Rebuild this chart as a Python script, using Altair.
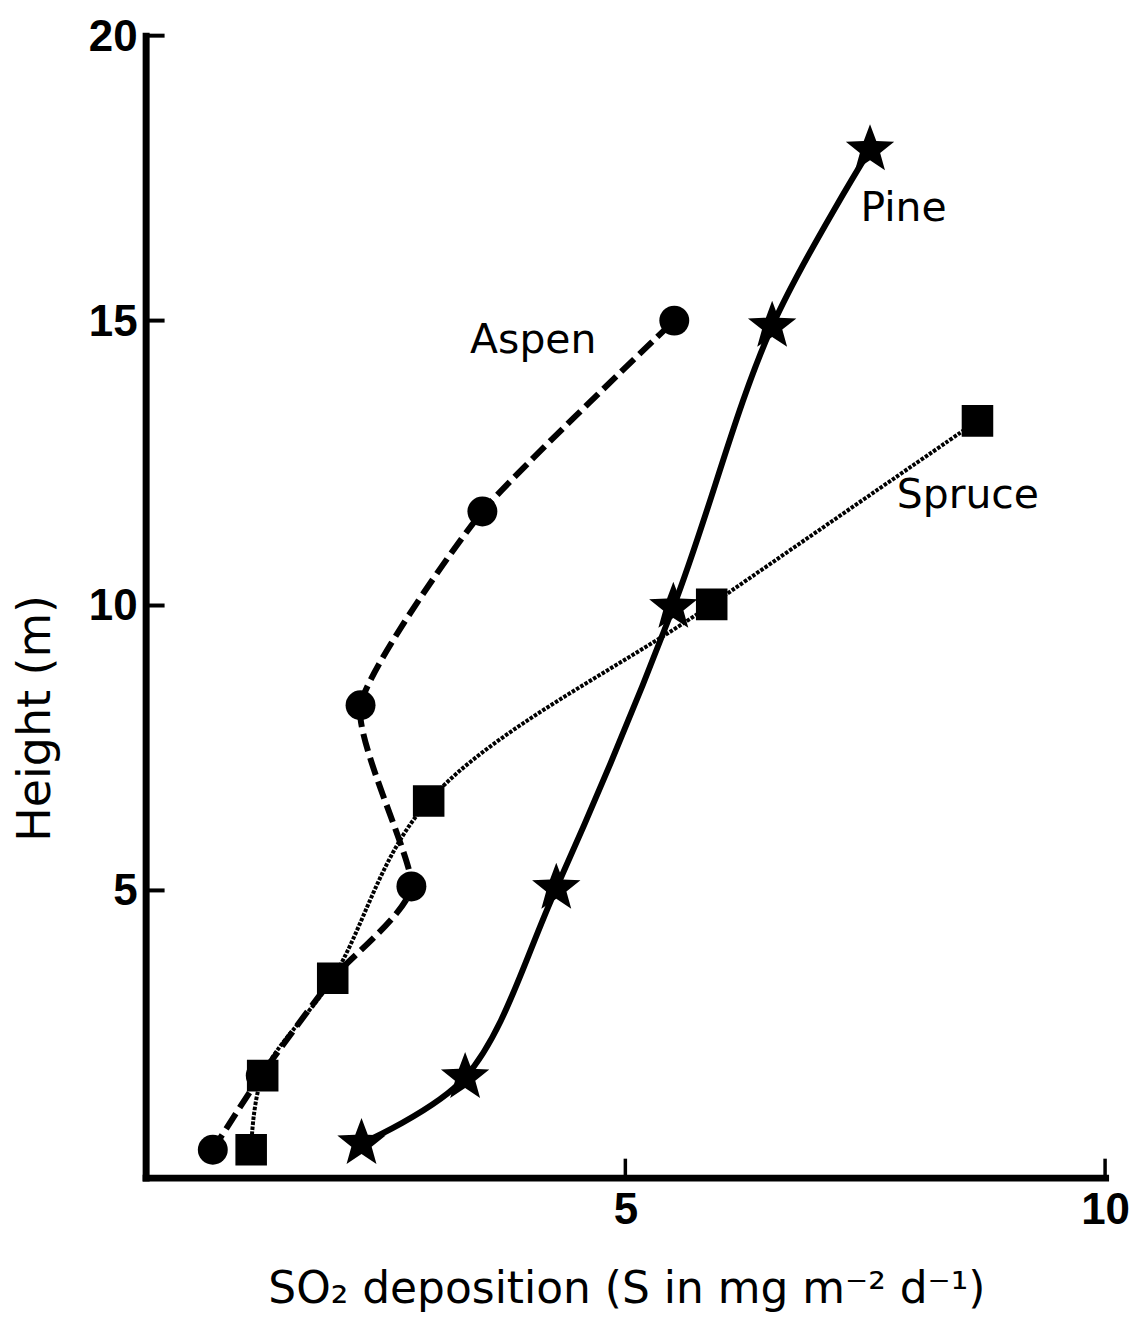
import altair as alt
import pandas as pd

# ---- data ----
aspen_x = [0.70, 1.20, 1.95, 2.77, 2.24, 3.51, 5.51]
aspen_y = [0.45, 1.75, 3.46, 5.07, 8.25, 11.65, 15.0]
spruce_x = [1.10, 1.22, 1.95, 2.95, 5.90, 8.67]
spruce_y = [0.45, 1.75, 3.46, 6.57, 10.02, 13.24]
pine_x = [2.25, 3.33, 4.28, 5.50, 6.53, 7.55]
pine_y = [0.56, 1.72, 5.04, 9.97, 14.9, 18.0]

species = ["Pine", "Aspen", "Spruce"]
label_x = [7.90, 4.04, 8.57]
label_y = [16.95, 14.65, 11.93]

x_ticks = [5, 10]
y_ticks = [5, 10, 15, 20]

W, H = 962, 1145
FONT = "DejaVu Sans"
TICKFONT = "Liberation Sans"


def frame(xs, ys):
    return pd.DataFrame({"x": xs, "y": ys, "i": list(range(len(xs)))})


aspen = frame(aspen_x, aspen_y)
spruce = frame(spruce_x, spruce_y)
pine = frame(pine_x, pine_y)
labels = pd.DataFrame({"name": species, "x": label_x, "y": label_y})
xt = pd.DataFrame({"x": x_ticks})
yt = pd.DataFrame({"y": y_ticks, "lab": [str(v) for v in y_ticks]})

x_axis = alt.Axis(
    values=x_ticks, ticks=False, grid=False, domainWidth=7, domainColor="black",
    domainCap="square", labelFont=TICKFONT, labelFontSize=44, labelFontWeight="bold",
    labelColor="black", labelPadding=11, labelFlush=False, labelOverlap=False,
    title="SO₂ deposition (S in mg m⁻² d⁻¹)", titleFont=FONT, titleFontSize=44,
    titleFontWeight="normal", titleColor="black", titleBaseline="alphabetic",
    titleY=125, titleX=482, titleAlign="center",
)
y_axis = alt.Axis(
    values=y_ticks, ticks=False, grid=False, labels=False, domainWidth=7,
    domainColor="black", domainCap="square",
    title="Height (m)", titleFont=FONT, titleFontSize=46, titleFontWeight="normal",
    titleColor="black", titleBaseline="alphabetic", titleAngle=-90,
    titleX=-96, titleY=684, titleAlign="center",
)

xs = alt.Scale(domain=[0, 10], nice=False, zero=False)
ys = alt.Scale(domain=[-0.04, 20], nice=False, zero=False)


def X(field="x"):
    return alt.X(f"{field}:Q", scale=xs, axis=x_axis)


def Y(field="y"):
    return alt.Y(f"{field}:Q", scale=ys, axis=y_axis)


STAR = ("M0,-1 L0.247,-0.34 L0.951,-0.309 L0.399,0.13 L0.588,0.809 L0,0.42 "
        "L-0.588,0.809 L-0.399,0.13 L-0.951,-0.309 L-0.247,-0.34 Z")

aspen_line = alt.Chart(aspen).mark_line(
    interpolate="cardinal", tension=0.45, strokeDash=[18, 7], strokeWidth=6, color="black"
).encode(x=X(), y=Y(), order="i:Q")

spruce_line = alt.Chart(spruce).mark_line(
    interpolate="catmull-rom", strokeDash=[3.5, 1.5], strokeWidth=4, color="black"
).encode(x=X(), y=Y(), order="i:Q")

pine_line = alt.Chart(pine).mark_line(
    interpolate="catmull-rom", strokeWidth=6, color="black"
).encode(x=X(), y=Y(), order="i:Q")

aspen_pts = alt.Chart(aspen).mark_point(
    shape="circle", filled=True, size=900, opacity=1, color="black"
).encode(x=X(), y=Y())

spruce_pts = alt.Chart(spruce).mark_point(
    shape="square", filled=True, size=1000, opacity=1, color="black"
).encode(x=X(), y=Y())

pine_pts = alt.Chart(pine).mark_point(
    shape=STAR, filled=True, size=2600, opacity=1, color="black"
).encode(x=X(), y=Y())

text = alt.Chart(labels).mark_text(
    font=FONT, fontSize=41, color="black", align="center", baseline="middle"
).encode(x=X(), y=Y(), text="name:N")

xtick = alt.Chart(xt).mark_rule(strokeWidth=3.5, color="black").encode(
    x=X(), y=alt.value(H), y2=alt.value(H - 19)
)
ytick = alt.Chart(yt).mark_rule(strokeWidth=4, color="black").encode(
    y=Y(), x=alt.value(0), x2=alt.value(19)
)
ylabels = alt.Chart(yt).mark_text(
    font=TICKFONT, fontSize=44, fontWeight="bold", color="black",
    align="right", baseline="middle", dx=-8, dy=2
).encode(y=Y(), x=alt.value(0), text="lab:N")

chart = alt.layer(
    xtick, ytick, spruce_line, aspen_line, pine_line,
    aspen_pts, spruce_pts, pine_pts, text, ylabels
).properties(
    width=W, height=H,
    autosize=alt.AutoSizeParams(type="none"),
    padding={"left": 138, "top": 26, "right": 30, "bottom": 140},
    background="white",
).configure_view(stroke=None)

chart.save("out.html", embed_options={"renderer": "svg", "actions": False})
